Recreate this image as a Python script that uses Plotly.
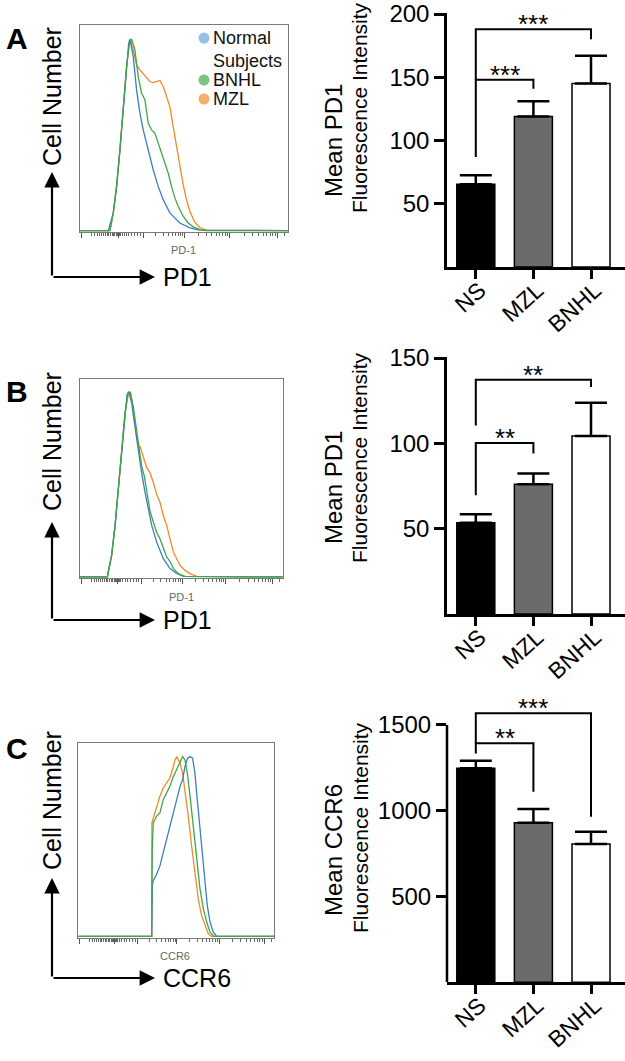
import math
import plotly.graph_objects as go

W, H = 625, 1061
FONT = "Liberation Sans, Arial, sans-serif"

# ---------------- data ----------------
groups = ["NS", "MZL", "BNHL"]
bar_colors = ["#000000", "#6b6b6b", "#ffffff"]

a_mean = [65.5, 119.0, 145.0]
a_err = [7.0, 12.0, 22.0]
b_mean = [53.4, 76.0, 104.3]
b_err = [5.1, 6.3, 19.5]
c_mean = [1247, 930, 806]
c_err = [44, 80, 72]

# (left group, right group, left end, top, right end, label)
a_brackets = [("NS", "MZL", 87, 148, 141, "***"), ("NS", "BNHL", 148, 188, 180, "***")]
b_brackets = [("NS", "MZL", 69.6, 100.2, 94, "**"), ("NS", "BNHL", 110.5, 137.2, 133, "**")]
c_brackets = [("NS", "MZL", 1334, 1393, 1111, "**"), ("NS", "BNHL", 1393, 1568, 965, "***")]

a_ticks = [50, 100, 150, 200]
b_ticks = [50, 100, 150]
c_ticks = [500, 1000, 1500]

# histogram traces: x = position on display axis (0-100), y = % of max
a_ns_x = [0, 13.6, 16.0, 17.6, 19.2, 20.8, 22.4, 23.4, 24.0, 25.6, 27.2, 28.8, 30.4, 32.8, 35.2, 37.6, 40.0, 43.2, 48.0, 52.8, 57.6, 100]
a_ns_y = [0, 0, 8.6, 21.5, 39.3, 58.7, 79.8, 91.1, 93.2, 84.6, 68.4, 57.1, 49.0, 39.3, 29.6, 21.5, 15.0, 8.6, 3.7, 1.3, 0.2, 0]
a_bnhl_x = [0, 14.4, 16.0, 17.6, 19.2, 20.8, 22.4, 23.7, 24.8, 26.4, 28.0, 29.6, 31.2, 32.8, 34.4, 36.0, 37.6, 39.2, 40.8, 42.4, 44.0, 45.6, 47.2, 49.6, 52.0, 54.4, 57.6, 60.8, 100]
a_bnhl_y = [0, 0, 8.6, 21.5, 39.3, 58.7, 79.8, 91.1, 93.2, 87.9, 74.9, 66.8, 63.6, 52.3, 49.0, 47.4, 42.6, 37.7, 32.8, 28.0, 21.5, 15.9, 11.8, 7.0, 3.7, 1.8, 0.5, 0, 0]
a_mzl_x = [0, 14.4, 16.0, 17.6, 19.2, 20.8, 22.4, 23.7, 24.5, 25.6, 27.2, 28.8, 30.4, 32.0, 33.6, 35.2, 36.8, 38.4, 40.0, 41.6, 43.2, 44.8, 46.4, 48.0, 49.6, 51.2, 52.8, 55.2, 57.6, 60.8, 100]
a_mzl_y = [0, 0, 8.6, 21.5, 39.3, 58.7, 79.8, 90.3, 91.9, 87.9, 80.6, 78.2, 76.2, 74.1, 72.5, 72.0, 72.5, 73.0, 70.1, 65.2, 60.4, 50.6, 40.9, 31.2, 22.3, 15.0, 9.4, 4.0, 1.5, 0.2, 0]

b_ns_x = [0, 13.5, 15.6, 17.3, 18.9, 20.6, 22.2, 23.2, 24.0, 25.5, 27.1, 28.8, 30.4, 32.1, 33.7, 35.4, 37.8, 41.1, 44.4, 47.7, 51.0, 100]
b_ns_y = [0, 0, 10.9, 25.9, 44.3, 64.4, 82.8, 92.0, 93.6, 87.8, 76.1, 62.7, 52.7, 42.6, 34.3, 25.9, 17.6, 9.2, 4.2, 1.7, 0.3, 0]
b_bnhl_x = [0, 13.5, 15.6, 17.3, 18.9, 20.6, 22.2, 23.5, 24.7, 26.3, 28.0, 29.3, 30.4, 31.7, 32.9, 34.5, 36.2, 37.8, 39.5, 41.1, 42.8, 44.4, 46.1, 48.5, 51.8, 100]
b_bnhl_y = [0, 0, 10.9, 25.9, 44.3, 64.4, 82.8, 92.0, 93.6, 86.1, 72.7, 62.7, 56.0, 51.0, 44.3, 33.4, 27.6, 22.6, 19.2, 14.2, 10.0, 7.9, 4.2, 1.7, 0.3, 0]
b_mzl_x = [0, 13.5, 15.6, 17.3, 18.9, 20.6, 22.2, 23.8, 25.0, 26.3, 28.0, 28.8, 29.6, 30.4, 31.3, 32.9, 34.5, 36.2, 37.8, 39.5, 41.1, 42.8, 44.4, 46.1, 47.7, 49.3, 51.8, 54.3, 57.6, 100]
b_mzl_y = [0, 0, 10.9, 25.9, 44.3, 64.4, 82.8, 92.0, 92.8, 84.4, 71.1, 65.2, 66.1, 63.5, 59.4, 55.2, 52.7, 47.7, 41.8, 37.6, 30.9, 25.9, 19.2, 12.5, 9.2, 5.9, 3.3, 1.7, 0.3, 0]

c_ns_x = [0, 37.5, 37.8, 38.3, 40.0, 41.7, 43.4, 45.1, 46.8, 48.6, 50.3, 52.0, 53.3, 54.5, 55.9, 57.1, 58.4, 59.6, 60.8, 62.2, 63.5, 64.7, 65.9, 67.3, 69.0, 70.7, 100]
c_ns_y = [0, 0, 26.2, 28.8, 32.2, 36.5, 43.4, 50.3, 57.1, 64.0, 70.8, 77.7, 81.1, 88.0, 92.3, 93.1, 92.3, 84.6, 70.8, 55.4, 40.0, 26.2, 16.0, 7.4, 2.2, 0, 0]
c_bnhl_x = [0, 37.5, 37.8, 38.3, 40.0, 41.7, 43.4, 45.1, 46.8, 48.6, 50.3, 52.0, 53.3, 54.5, 55.7, 57.1, 58.8, 60.5, 62.2, 63.9, 65.6, 67.3, 69.3, 100]
c_bnhl_y = [0, 0, 45.1, 58.8, 62.3, 64.0, 70.8, 74.3, 77.7, 82.8, 86.3, 90.6, 93.1, 91.4, 84.6, 72.6, 55.4, 38.3, 24.5, 14.2, 7.4, 2.2, 0, 0]
c_mzl_x = [0, 37.5, 37.6, 38.3, 40.0, 41.7, 43.4, 45.1, 46.8, 48.6, 49.4, 50.3, 52.0, 53.3, 54.5, 56.2, 57.9, 59.6, 61.3, 63.0, 64.7, 66.4, 68.1, 100]
c_mzl_y = [0, 0, 58.8, 61.4, 67.4, 72.6, 76.8, 79.4, 82.0, 88.0, 91.4, 93.1, 89.7, 84.6, 76.0, 62.3, 46.8, 31.4, 19.4, 10.8, 5.7, 1.4, 0, 0]

legend_labels = ["Normal<br>Subjects", "BNHL", "MZL"]
line_colors = {"ns": "#3b7ec2", "bnhl": "#3fa64a", "mzl": "#f28a26"}
dot_colors = ["#95bfe4", "#7cc480", "#f8ad6c"]

# logicle-style display ticks (no labels)
hist_major = [0.8, 18.4, 30.4, 50.4, 72.0, 95.0]
hist_minor = [5.6, 7.0, 8.2, 9.3, 10.3, 11.2, 12.1, 13.0, 13.8, 14.6, 15.4, 16.1, 16.8, 17.4, 17.9, 18.9, 19.4,
              20.2, 21.2, 22.3, 23.5, 24.8, 26.2, 27.7, 29.1]
for start, width in [(30.4, 20.0), (50.4, 21.6), (72.0, 23.0)]:
    for k in range(2, 10):
        hist_minor.append(round(start + width * math.log10(k), 2))
hist_minor.append(98.5)

# ---------------- layout helpers ----------------
def px(x):
    return x / W

def py(y):
    return 1 - y / H

def note(x, y, text, size, color="black", angle=0, xanchor="center", yanchor="middle"):
    return dict(x=px(x), y=py(y), xref="paper", yref="paper", text=text, showarrow=False,
                textangle=angle, xanchor=xanchor, yanchor=yanchor,
                font=dict(size=size, color=color, family=FONT))

fig = go.Figure()
annotations = []
shapes = []

hist_panels = [
    ("", (80, 288), (25, 232), [(a_mzl_x, a_mzl_y, "mzl"), (a_ns_x, a_ns_y, "ns"), (a_bnhl_x, a_bnhl_y, "bnhl")], "PD-1", (183, 250)),
    ("3", (80, 282.7), (379, 578.3), [(b_mzl_x, b_mzl_y, "mzl"), (b_ns_x, b_ns_y, "ns"), (b_bnhl_x, b_bnhl_y, "bnhl")], "PD-1", (181, 597)),
    ("5", (78.3, 274), (743.3, 937.7), [(c_mzl_x, c_mzl_y, "mzl"), (c_ns_x, c_ns_y, "ns"), (c_bnhl_x, c_bnhl_y, "bnhl")], "CCR6", (175, 956)),
]

for suf, (xl, xr), (yt, yb), series, xlabel, (lx, ly) in hist_panels:
    xa = "x" + suf
    ya = "y" + suf
    for xs, ys, key in series:
        fig.add_trace(go.Scatter(x=xs, y=ys, mode="lines", xaxis=xa, yaxis=ya,
                                 line=dict(color=line_colors[key], width=1.3),
                                 showlegend=False, hoverinfo="skip"))
    fig.update_layout(**{
        "xaxis" + suf: dict(domain=[px(xl), px(xr)], range=[0, 100], anchor=ya, showgrid=False, zeroline=False,
                            automargin=False,
                            showline=True, mirror=True, linecolor="#7a7a7a", linewidth=1,
                            tickmode="array", tickvals=hist_major, ticks="outside", ticklen=5, tickwidth=1,
                            tickcolor="#555555", showticklabels=False,
                            minor=dict(tickmode="array", tickvals=hist_minor, ticks="outside", ticklen=3,
                                       tickwidth=1, tickcolor="#666666")),
        "yaxis" + suf: dict(domain=[py(yb), py(yt)], range=[-0.7, 100], anchor=xa, showgrid=False, zeroline=False,
                            automargin=False,
                            showline=True, mirror=True, linecolor="#7a7a7a", linewidth=1,
                            ticks="", showticklabels=False),
    })
    annotations.append(note(lx, ly, xlabel, 11, color="#666666"))

# legend for panel A
legend_rows = [(38, 61), (80,), (99,)]
for i, (label, color) in enumerate(zip(legend_labels, dot_colors)):
    cy = legend_rows[i][0]
    r = 5.5
    shapes.append(dict(type="circle", xref="paper", yref="paper", x0=px(204 - r), x1=px(204 + r),
                       y0=py(cy + r), y1=py(cy - r), fillcolor=color, line=dict(width=0)))
    for j, ln in enumerate(label.split("<br>")):
        annotations.append(note(211, legend_rows[i][j], ln, 18, color="#111111", xanchor="left"))

# ---------------- bar panels ----------------
bar_panels = [
    ("2", (13, 267), [0, 200], a_mean, a_err, a_brackets, a_ticks, "Mean PD1", (141, 108)),
    ("4", (357, 614), [0, 150], b_mean, b_err, b_brackets, b_ticks, "Mean PD1", (488, 458)),
    ("6", (707.8, 982.3), [0, 1600], c_mean, c_err, c_brackets, c_ticks, "Mean CCR6", (850, 828)),
]

for suf, (yt, yb), yrange, means, errs, brackets, ticks, title1, (t1y, t2y) in bar_panels:
    xa = "x" + suf
    ya = "y" + suf
    fig.add_trace(go.Bar(x=groups, y=means, xaxis=xa, yaxis=ya, width=0.66,
                         marker=dict(color=bar_colors, line=dict(color="black", width=1.5)),
                         error_y=dict(type="data", symmetric=False, array=errs, arrayminus=[0, 0, 0],
                                      color="black", thickness=2.5, width=16),
                         showlegend=False, hoverinfo="skip"))
    for lg, rg, lbot, top, rbot, label in brackets:
        fig.add_trace(go.Scatter(x=[lg, lg, rg, rg], y=[lbot, top, top, rbot], mode="lines",
                                 xaxis=xa, yaxis=ya, line=dict(color="black", width=2),
                                 showlegend=False, hoverinfo="skip"))
        mid = (groups.index(lg) + groups.index(rg)) / 2
        annotations.append(dict(x=mid, y=top, xref=xa, yref=ya, text=label, showarrow=False,
                                xanchor="center", yanchor="middle", yshift=5,
                                font=dict(size=26, color="black", family=FONT)))
    manual_line = yrange[1] > ticks[-1]
    top_range = yrange[1] if manual_line else yrange[1] * 1.004
    fig.update_layout(**{
        "xaxis" + suf: dict(domain=[px(447), 1.0], range=[-0.5, 2.59], anchor=ya, type="category",
                            automargin=False,
                            showgrid=False, zeroline=False, showline=True, linecolor="black", linewidth=2.5,
                            ticks="outside", ticklen=9, tickwidth=2.5, tickcolor="black",
                            tickangle=-42, ticklabelstandoff=-11, ticklabelshift=4,
                            tickfont=dict(size=23, color="black", family=FONT)),
        "yaxis" + suf: dict(domain=[py(yb), py(yt)], range=[0, top_range], anchor=xa, showgrid=False,
                            zeroline=False, automargin=False,
                            showline=not manual_line, linecolor="black", linewidth=2.5,
                            tickmode="array", tickvals=ticks, ticks="outside", ticklen=10, tickwidth=2.5,
                            tickcolor="black", tickfont=dict(size=24, color="black", family=FONT)),
    })
    if manual_line:
        shapes.append(dict(type="line", xref=xa + " domain", yref=ya, x0=0, x1=0, y0=0, y1=ticks[-1],
                           line=dict(color="black", width=2.5)))
    annotations.append(note(333, t1y, title1, 24, angle=-90))
    annotations.append(note(360, t2y, "Fluorescence Intensity", 21, angle=-90))

# ---------------- panel decorations: letters, axis arrows ----------------
decor = [
    ("A", 39, 97, 277, 172, "PD1"),
    ("B", 391, 442, 620, 522, "PD1"),
    ("C", 748, 801, 978, 878, "CCR6"),
]
for letter, ly, cell_y, corner_y, tip_y, marker in decor:
    annotations.append(note(17, ly, "<b>%s</b>" % letter, 30))
    annotations.append(note(52, cell_y, "Cell Number", 25, angle=-90))
    annotations.append(dict(x=px(52), y=py(tip_y), xref="paper", yref="paper", text="", showarrow=True,
                            ax=0, ay=corner_y - tip_y, arrowhead=2, arrowsize=1.4, arrowwidth=2.2,
                            arrowcolor="black", standoff=0))
    annotations.append(dict(x=px(155), y=py(corner_y), xref="paper", yref="paper", text="", showarrow=True,
                            ax=-(155 - 52), ay=0, arrowhead=2, arrowsize=1.4, arrowwidth=2.2,
                            arrowcolor="black", standoff=0))
    annotations.append(note(161, corner_y, marker, 25, xanchor="left"))

fig.update_layout(width=W, height=H, margin=dict(l=0, r=0, t=0, b=0, pad=0, autoexpand=False),
                  paper_bgcolor="white", plot_bgcolor="white",
                  font=dict(family=FONT, color="black"),
                  annotations=annotations, shapes=shapes, bargap=0.3)

fig.write_html("out.html", config={"displayModeBar": False},
               post_script="document.body.style.margin='0px';document.body.style.overflow='hidden';")
